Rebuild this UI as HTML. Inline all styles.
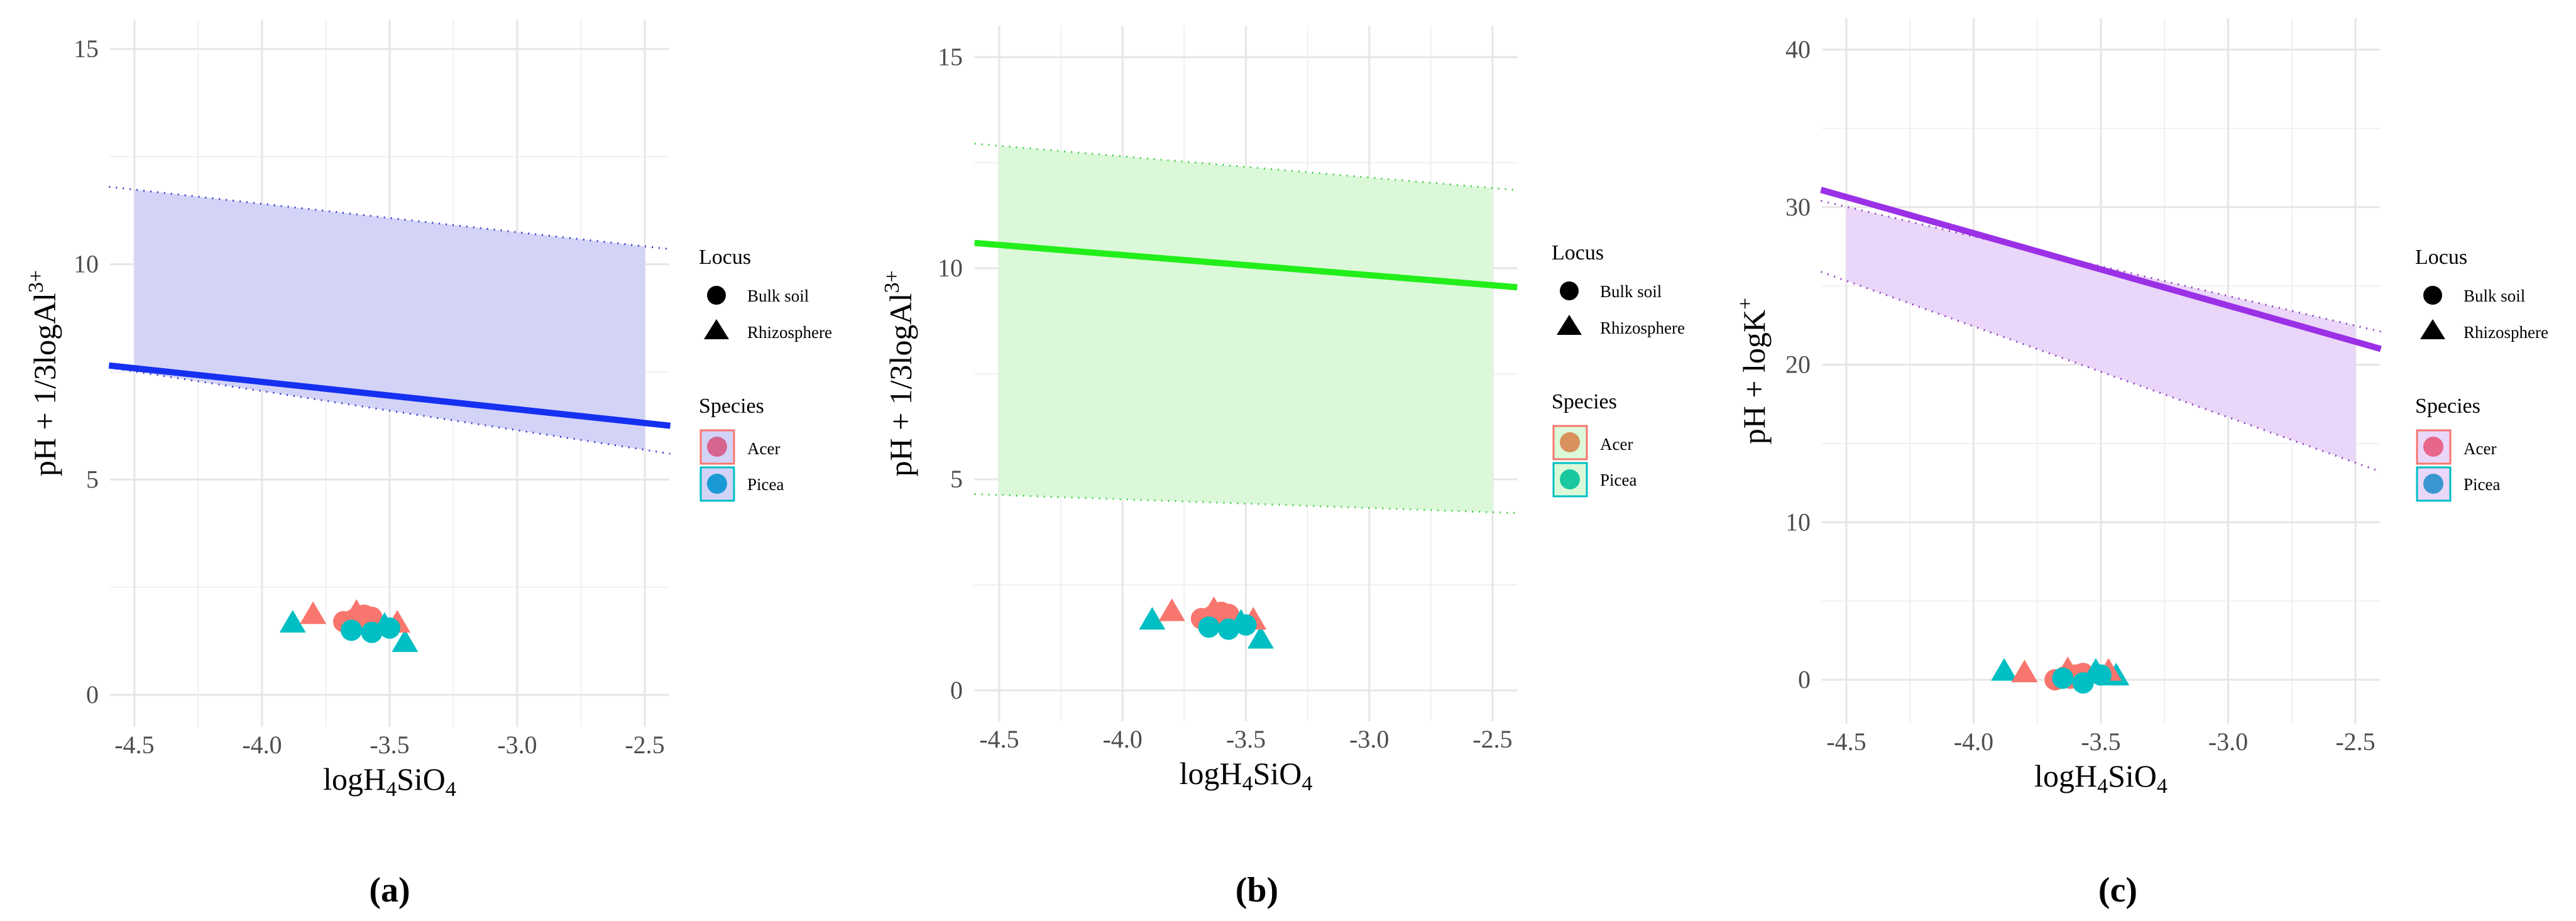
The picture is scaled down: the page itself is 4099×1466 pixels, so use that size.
<!DOCTYPE html>
<html><head><meta charset="utf-8"><style>
html,body{margin:0;padding:0;background:#fff;}
svg{display:block;font-family:"Liberation Serif",serif;}
</style></head><body>
<svg id="fig" width="4099" height="1466" viewBox="0 0 4099 1466" xmlns="http://www.w3.org/2000/svg"></svg>
<script>
const xTicks=[-4.5,-4.0,-3.5,-3.0,-2.5];
const xTickLabels=["-4.5","-4.0","-3.5","-3.0","-2.5"];
const yTicksAB=[0,5,10,15];
const yTicksC=[0,10,20,30,40];
const ptX=[-3.88,-3.80,-3.68,-3.64,-3.60,-3.57,-3.62,-3.63,-3.65,-3.57,-3.52,-3.44,-3.47,-3.50];
const ptSpecies=["Picea","Acer","Acer","Acer","Acer","Acer","Acer","Acer","Picea","Picea","Picea","Picea","Acer","Picea"];
const ptShape=["tri","tri","circ","circ","circ","circ","circ","tri","circ","circ","tri","tri","tri","circ"];
const ptYab=[1.65,1.85,1.70,1.75,1.85,1.80,1.65,1.90,1.50,1.45,1.60,1.20,1.65,1.55];
const ptYc=[0.5,0.4,0.0,0.2,0.3,0.4,0.1,0.6,0.1,-0.2,0.5,0.2,0.5,0.3];
// band/line values [at x=-4.6, at x=-2.4]
const upperA=[11.8,10.35], lowerA=[7.6,5.6], lineA=[7.65,6.25];
const upperB=[12.95,11.85], lowerB=[4.65,4.2], lineB=[10.6,9.55];
const upperC=[30.4,22.1], lowerC=[25.9,13.2], lineC=[31.1,21.0];
const lineXs=[-4.6,-2.4];
const ribbonXs=[-4.5,-2.5];

const NS="http://www.w3.org/2000/svg";
const svg=document.getElementById('fig');
function mk(tag,attrs,parent){const e=document.createElementNS(NS,tag);for(const k in attrs)e.setAttribute(k,attrs[k]);(parent||svg).appendChild(e);return e;}
const spColor={Acer:"#f8766d",Picea:"#00bfc4"};

const panels=[
 {id:"a",left:175,right:1065,top:31,bottom:1157,xA:214,xB:1026,y0:1106,yTop:78,yTopVal:15,yTicks:yTicksAB,minor:2.5,ys:ptYab,up:upperA,lo:lowerA,ln:lineA,fill:"#d3d3f8",col:"#1530f0",dot:"#3a3ac8",legX:1112,legY:420,
  ylab:["pH + 1/3logAl","3+"],ylabX:88,keyA:"#d6658f",keyP:"#1a9ad4",cap:"(a)",capX:620},
 {id:"b",left:1550,right:2415,top:41,bottom:1148,xA:1590,xB:2375,y0:1099,yTop:91,yTopVal:15,yTicks:yTicksAB,minor:2.5,ys:ptYab,up:upperB,lo:lowerB,ln:lineB,fill:"#dbf9d9",col:"#22ee1a",dot:"#44cc44",legX:2469,legY:413,
  ylab:["pH + 1/3logAl","3+"],ylabX:1450,keyA:"#d8905c",keyP:"#1ac8a0",cap:"(b)",capX:2000},
 {id:"c",left:2899,right:3787,top:29,bottom:1152,xA:2938,xB:3748,y0:1082,yTop:79,yTopVal:40,yTicks:yTicksC,minor:5,ys:ptYc,up:upperC,lo:lowerC,ln:lineC,fill:"#ead6f8",col:"#9b30e6",dot:"#8a3ab8",legX:3843,legY:420,
  ylab:["pH + logK","+"],ylabX:2808,keyA:"#e8668a",keyP:"#3a98d0",cap:"(c)",capX:3370}
];

panels.forEach(p=>{
 const g=mk('g',{});
 
 
 const sx=v=>p.xA+(v-(-4.5))/2.0*(p.xB-p.xA);
 const sy=v=>p.y0-(v/p.yTopVal)*(p.y0-p.yTop);
 const grid=mk('g',{},g);
 
 
 for(let v=p.yTicks[0]+p.minor;v<p.yTicks[p.yTicks.length-1];v+=p.minor*2){
  mk('line',{x1:p.left,x2:p.right,y1:sy(v),y2:sy(v),stroke:"#f0f0f0","stroke-width":2},grid);}
 for(let i=0;i<xTicks.length-1;i++){const v=xTicks[i]+0.25;
  mk('line',{x1:sx(v),x2:sx(v),y1:p.top,y2:p.bottom,stroke:"#f0f0f0","stroke-width":2},grid);}
 p.yTicks.forEach(v=>{mk('line',{x1:p.left,x2:p.right,y1:sy(v),y2:sy(v),stroke:"#e6e6e6","stroke-width":3},grid);
  const t=mk('text',{x:p.left-18,y:sy(v)+13,"text-anchor":"end","font-size":40,fill:"#4d4d4d"},g);t.textContent=v;
  });
 xTicks.forEach((v,i)=>{mk('line',{x1:sx(v),x2:sx(v),y1:p.top,y2:p.bottom,stroke:"#e6e6e6","stroke-width":3},grid);
  const t=mk('text',{x:sx(v),y:p.bottom+42,"text-anchor":"middle","font-size":40,fill:"#4d4d4d"},g);t.textContent=xTickLabels[i];
  });
 const lerp=(arr,x)=>arr[0]+(x-lineXs[0])/(lineXs[1]-lineXs[0])*(arr[1]-arr[0]);
 const x1=ribbonXs[0],x2=ribbonXs[1];
 const rib=mk('polygon',{points:`${sx(x1)},${sy(lerp(p.up,x1))} ${sx(x2)},${sy(lerp(p.up,x2))} ${sx(x2)},${sy(lerp(p.lo,x2))} ${sx(x1)},${sy(lerp(p.lo,x1))}`,fill:p.fill},g);
 
 [p.up,p.lo].forEach((arr,k)=>{const l=mk('line',{x1:sx(lineXs[0]),y1:sy(arr[0]),x2:sx(lineXs[1]),y2:sy(arr[1]),stroke:p.dot,"stroke-width":3,"stroke-dasharray":"2 9"},g);
  });
 const ml=mk('line',{x1:sx(lineXs[0]),y1:sy(p.ln[0]),x2:sx(lineXs[1]),y2:sy(p.ln[1]),stroke:p.col,"stroke-width":10},g);
 
 ptX.forEach((xv,i)=>{const cx=sx(xv),cy=sy(p.ys[i]);let e;
  if(ptShape[i]==="circ")e=mk('circle',{cx,cy,r:17,fill:spColor[ptSpecies[i]]},g);
  else e=mk('polygon',{points:`${cx},${cy-22} ${cx-21},${cy+14} ${cx+21},${cy+14}`,fill:spColor[ptSpecies[i]]},g);
  });
 const xt=mk('text',{x:(p.left+p.right)/2,y:p.bottom+100,"text-anchor":"middle","font-size":50,fill:"#000"},g);
 
 xt.innerHTML='logH<tspan font-size="34" dy="10">4</tspan><tspan dy="-10">SiO</tspan><tspan font-size="34" dy="10">4</tspan>';
 const cyM=(p.top+p.bottom)/2;
 const yt=mk('text',{x:p.ylabX,y:cyM,"text-anchor":"middle","font-size":50,fill:"#000",transform:`rotate(-90 ${p.ylabX} ${cyM})`},g);
 
 yt.innerHTML=p.ylab[0]+'<tspan font-size="34" dy="-20">'+p.ylab[1]+'</tspan>';
 const lg=mk('g',{},g);
 const L=p.legX,T=p.legY;
 const tt=(s,x,y,fs)=>{const t=mk('text',{x,y,"font-size":fs,fill:"#000"},lg);t.textContent=s;return t;};
 tt("Locus",L,T,34);
 mk('circle',{cx:L+28,cy:T+50,r:15,fill:"#000"},lg);tt("Bulk soil",L+77,T+60,27);
 mk('polygon',{points:`${L+28},${T+88} ${L+8},${T+120} ${L+48},${T+120}`,fill:"#000"},lg);tt("Rhizosphere",L+77,T+118,27);
 tt("Species",L,T+237,34);
 mk('rect',{x:L+3,y:T+265,width:53,height:53,fill:p.fill,stroke:"#f8766d","stroke-width":3},lg);
 mk('circle',{cx:L+29,cy:T+291,r:16,fill:p.keyA},lg);tt("Acer",L+77,T+303,27);
 mk('rect',{x:L+3,y:T+324,width:53,height:53,fill:p.fill,stroke:"#00bfc4","stroke-width":3},lg);
 mk('circle',{cx:L+29,cy:T+350,r:16,fill:p.keyP},lg);tt("Picea",L+77,T+360,27);
 const cap=mk('text',{x:p.capX,y:1435,"text-anchor":"middle","font-size":56,"font-weight":"bold","font-family":"Liberation Serif, serif",fill:"#000"},g);
 cap.textContent=p.cap;
});
</script>
</body></html>
